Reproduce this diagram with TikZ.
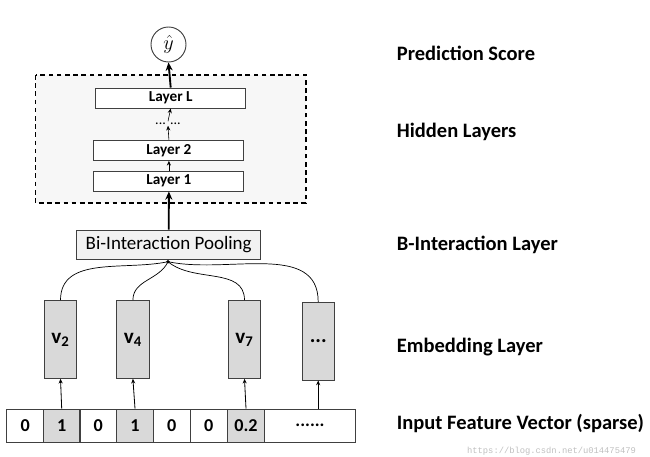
\documentclass[tikz,border=0pt]{standalone}
\usepackage{fontspec}
\setmainfont{Carlito}
\setmonofont{Liberation Mono}
\usetikzlibrary{arrows.meta}

\definecolor{boxline}{HTML}{404040}
\definecolor{embgray}{HTML}{D9D9D9}
\definecolor{panelgray}{HTML}{F7F7F7}
\definecolor{poolgray}{HTML}{F2F2F2}

\tikzset{
    layerbox/.style={draw=boxline, line width=0.8pt, fill=white, minimum width=4.5cm, minimum height=0.6cm, inner sep=0pt, font=\fontsize{13}{15}\selectfont\bfseries},
    embbox/.style={draw=boxline, line width=0.8pt, fill=embgray, minimum width=0.97cm, minimum height=2.33cm, inner sep=0pt, font=\fontsize{18}{20}\selectfont\bfseries},
    cell/.style={draw=boxline, line width=0.8pt, minimum width=1.1cm, minimum height=1cm, inner sep=0pt, font=\fontsize{15.5}{18}\selectfont\bfseries},
    sidelabel/.style={anchor=west, inner sep=0pt, font=\fontsize{17.5}{20}\selectfont\bfseries},
    thin arrow/.style={-{Stealth[length=4pt, width=3.5pt]}, line width=0.5pt},
    thick arrow/.style={-{Stealth[length=7pt, width=6pt]}, line width=1.6pt}
}

\begin{document}
\begin{tikzpicture}[x=0.03cm, y=-0.03cm]
    \useasboundingbox (0,0) rectangle (650,457);

    % hidden layers panel
    \draw[line width=1.1pt, fill=panelgray, dash pattern=on 4pt off 3pt] (35.7,75) rectangle (306,203);

    \node [circle, draw=boxline, line width=0.8pt, minimum size=1.05cm, inner sep=0pt, font=\fontsize{18}{20}\selectfont] (yhat) at (168.5,44.5) {$\hat{y}$};

    \node [layerbox] (layerL) at (170.7,98) {Layer L};
    \node [inner sep=1pt, font=\fontsize{12}{14}\selectfont] (ldots) at (168,123.5) {... ...};
    \node [layerbox] (layer2) at (168.9,150.4) {Layer 2};
    \node [layerbox] (layer1) at (168.9,181) {Layer 1};

    \node [draw=boxline, line width=0.8pt, fill=poolgray, minimum width=5.52cm, minimum height=0.87cm, inner sep=0pt, font=\fontsize{16.2}{19}\selectfont] (pool) at (168.7,244.7) {Bi-Interaction Pooling};
    \coordinate (merge) at (168,261.7);

    % embedding vectors
    \node [embbox] (v2) at (60.5,339.5) {v\textsubscript{2}};
    \node [embbox] (v4) at (132.9,339.5) {v\textsubscript{4}};
    \node [embbox] (v7) at (244.5,339.5) {v\textsubscript{7}};
    \node [embbox] (vdots) at (318.2,341.2) {...};

    % input feature vector
    \node [cell] (c1) at (25.3,425.7) {0};
    \node [cell, fill=embgray] (c2) at (61.7,425.7) {1};
    \node [cell] (c3) at (98.3,425.7) {0};
    \node [cell, fill=embgray] (c4) at (135,425.7) {1};
    \node [cell] (c5) at (171.7,425.7) {0};
    \node [cell] (c6) at (208.8,425.7) {0};
    \node [cell, fill=embgray] (c7) at (246,425.7) {0.2};
    \node [cell, minimum width=2.74cm] (c8) at (310,425.7) {......};

    % connections
    \draw [thick arrow] (layerL.north) -- (yhat.south);
    \draw [thin arrow] (ldots.north) -- (layerL.south);
    \draw [thin arrow] (layer2.north) -- (ldots.south);
    \draw [thin arrow] (layer1.north) -- (layer2.south);
    \draw [thick arrow] (pool.north) -- (layer1.south);

    \draw [line width=0.6pt] (v2.north) to[out=90, in=192] (merge);
    \draw [line width=0.6pt] (v4.north) to[out=90, in=245] (merge);
    \draw [line width=0.6pt] (v7.north) to[out=90, in=-40] (merge);
    \draw [line width=0.6pt] (vdots.north) to[out=90, in=-12] (merge);
    \fill [black] (merge) circle (1.6pt);

    \draw [thin arrow, line width=0.7pt] (c2.north) -- (v2.south);
    \draw [thin arrow, line width=0.7pt] (c4.north) -- (v4.south);
    \draw [thin arrow, line width=0.7pt] (c7.north) -- (v7.south);
    \draw [thin arrow, line width=0.7pt] (c8.north -| vdots.south) -- (vdots.south);

    % side labels
    \node [sidelabel] (lpred) at (396.7,53.3) {Prediction Score};
    \node [sidelabel] (lhidden) at (396.7,131.7) {Hidden Layers};
    \node [sidelabel] (lbi) at (396.7,245) {B-Interaction Layer};
    \node [sidelabel] (lemb) at (396.7,346.7) {Embedding Layer};
    \node [sidelabel] (linput) at (396.7,423.3) {Input Feature Vector (sparse)};
    \node [text=black!25, font=\fontsize{7.5}{9}\ttfamily] (mark) at (551.5,451) {https://blog.csdn.net/u014475479};
\end{tikzpicture}
\end{document}
